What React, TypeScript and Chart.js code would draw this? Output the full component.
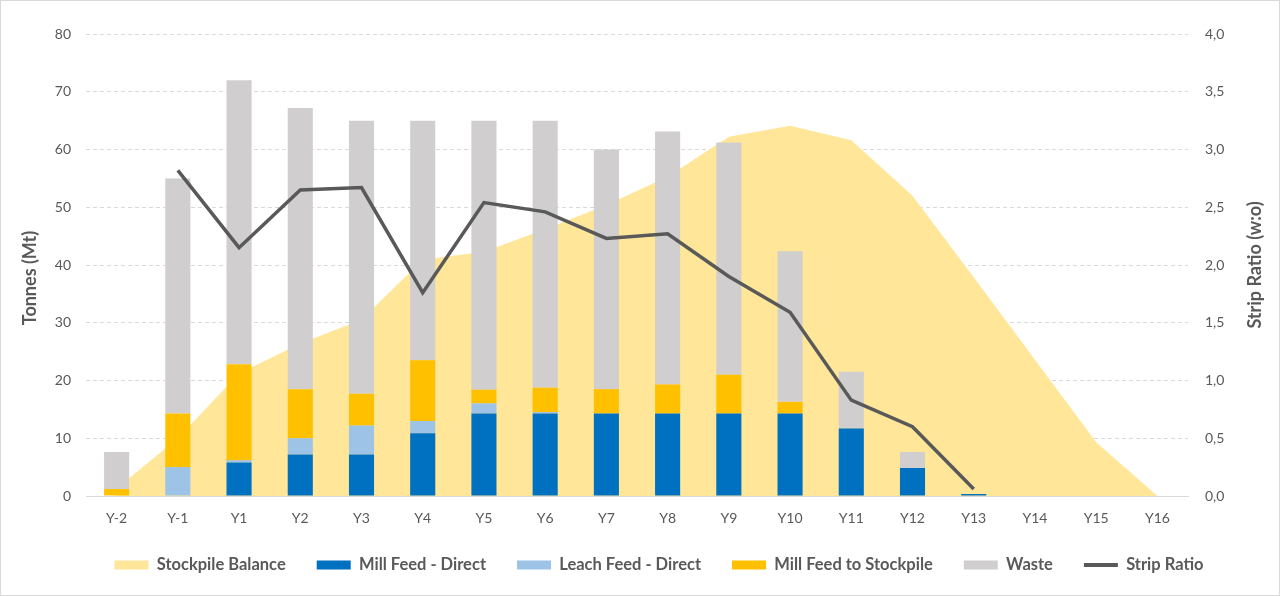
import { useEffect, useRef } from "react";
import Chart from "chart.js/auto";

const categories = [
  "Y-2", "Y-1", "Y1", "Y2", "Y3", "Y4", "Y5", "Y6", "Y7",
  "Y8", "Y9", "Y10", "Y11", "Y12", "Y13", "Y14", "Y15", "Y16",
];
const stockpileBalance = [1.3, 10.0, 21.2, 26.4, 30.5, 40.9, 42.3, 46.2, 50.4, 55.3, 62.2, 64.1, 61.6, 52.0, 37.9, 23.6, 9.3, 0];
const millFeedDirect = [0, 0, 5.8, 7.2, 7.2, 10.85, 14.3, 14.3, 14.3, 14.3, 14.3, 14.3, 11.7, 4.85, 0.35, 0, 0, 0];
const leachFeedDirect = [0, 5.0, 0.4, 2.8, 5.0, 2.15, 1.75, 0.25, 0, 0, 0, 0, 0.1, 0, 0, 0, 0, 0];
const millFeedToStockpile = [1.2, 9.3, 16.6, 8.5, 5.5, 10.5, 2.35, 4.2, 4.2, 5.0, 6.7, 2.0, 0, 0, 0, 0, 0, 0];
const waste = [6.4, 40.7, 49.2, 48.7, 47.3, 41.5, 46.6, 46.25, 41.5, 43.8, 40.2, 26.1, 9.7, 2.75, 0, 0, 0, 0];
const stripRatio = [null, 2.82, 2.15, 2.65, 2.67, 1.76, 2.54, 2.46, 2.23, 2.27, 1.9, 1.59, 0.83, 0.6, 0.06, null, null, null];

const leftTitle = "Tonnes (Mt)";
const rightTitle = "Strip Ratio (w:o)";

const FONT = "Lato, 'Open Sans', sans-serif";
const TEXT = "#595959";

// both axis titles read bottom-to-top, and the left one sits a bit low,
// so they are drawn here rather than through scale.title
const axisTitlePlugin = {
  id: "axisTitles",
  afterDraw(chart: any) {
    const { ctx, chartArea } = chart;
    const mid = (chartArea.top + chartArea.bottom) / 2;
    const draw = (text: string, x: number, y: number) => {
      ctx.save();
      ctx.translate(x, y);
      ctx.rotate(-Math.PI / 2);
      ctx.textAlign = "center";
      ctx.textBaseline = "middle";
      ctx.font = `bold 18px ${FONT}`;
      ctx.fillStyle = TEXT;
      ctx.fillText(text, 0, 0);
      ctx.restore();
    };
    draw(leftTitle, 29.5, mid + 13);
    draw(rightTitle, chart.width - 23.5, mid);
  },
};

// nudge the legend row right, it is not centred on the canvas in the original
const legendShiftPlugin = {
  id: "legendShift",
  afterLayout(chart: any) {
    if (!chart.legend) return;
    chart.legend.left += 19;
    chart.legend.right += 19;
  },
};

function MineChart() {
  const canvasRef = useRef<HTMLCanvasElement | null>(null);
  const chartRef = useRef<Chart | null>(null);

  useEffect(() => {
    if (!canvasRef.current) return;
    if (chartRef.current) chartRef.current.destroy();

    const barCommon = {
      type: "bar" as const,
      yAxisID: "y",
      order: 1,
      barPercentage: 0.41,
      categoryPercentage: 1,
      borderWidth: 0,
    };

    chartRef.current = new Chart(canvasRef.current, {
      type: "bar",
      data: {
        labels: categories,
        datasets: [
          {
            type: "line",
            label: "Stockpile Balance",
            data: stockpileBalance,
            yAxisID: "y",
            order: 2,
            fill: "origin",
            backgroundColor: "#FFE699",
            borderWidth: 0,
            pointRadius: 0,
            tension: 0,
          },
          { ...barCommon, label: "Mill Feed - Direct", data: millFeedDirect, backgroundColor: "#0070C0" },
          { ...barCommon, label: "Leach Feed - Direct", data: leachFeedDirect, backgroundColor: "#9DC3E6" },
          { ...barCommon, label: "Mill Feed to Stockpile", data: millFeedToStockpile, backgroundColor: "#FFC000" },
          { ...barCommon, label: "Waste", data: waste, backgroundColor: "#D0CECE" },
          {
            type: "line",
            label: "Strip Ratio",
            data: stripRatio,
            yAxisID: "y1",
            order: 0,
            fill: false,
            borderColor: "#595959",
            borderWidth: 3.5,
            pointRadius: 0,
            tension: 0,
            spanGaps: false,
          },
        ] as any,
      },
      options: {
        animation: false,
        responsive: true,
        maintainAspectRatio: false,
        layout: { padding: { top: 33, left: 0, right: 0, bottom: 11.75 } },
        scales: {
          x: {
            stacked: true,
            grid: { display: false, drawTicks: false },
            border: { display: true, color: "#D9D9D9", width: 1 },
            ticks: { color: TEXT, padding: 14.5, font: { family: FONT, size: 14 } },
            afterFit: (scale: any) => {
              scale.height = 29.75;
            },
          },
          y: {
            position: "left",
            stacked: true,
            min: 0,
            max: 80,
            ticks: { stepSize: 10, color: TEXT, padding: 15, font: { family: FONT, size: 14 } },
            grid: { color: "#D9D9D9", drawTicks: false },
            border: { display: false, dash: [4, 3] },
            afterFit: (scale: any) => {
              scale.width = 85;
            },
          },
          y1: {
            position: "right",
            min: 0,
            max: 4,
            ticks: {
              stepSize: 0.5,
              color: TEXT,
              padding: 17,
              font: { family: FONT, size: 14 },
              callback: (v: any) => Number(v).toFixed(1).replace(".", ","),
            },
            grid: { display: false, drawTicks: false },
            border: { display: false },
            afterFit: (scale: any) => {
              scale.width = 91;
            },
          },
        },
        plugins: {
          tooltip: { enabled: false },
          legend: {
            position: "bottom",
            labels: {
              usePointStyle: true,
              pointStyleWidth: 34,
              boxHeight: 9,
              padding: 31,
              color: TEXT,
              font: { family: FONT, size: 16.5, weight: "bold" },
              generateLabels: (chart: any) =>
                chart.data.datasets.map((ds: any, i: number) => {
                  const isLine = ds.label === "Strip Ratio";
                  return {
                    text: ds.label,
                    fillStyle: isLine ? "#595959" : ds.backgroundColor,
                    strokeStyle: "#595959",
                    lineWidth: isLine ? 4 : 0,
                    pointStyle: isLine ? "line" : "rect",
                    hidden: false,
                    datasetIndex: i,
                    fontColor: TEXT,
                  };
                }),
            },
          },
        },
      },
      plugins: [axisTitlePlugin, legendShiftPlugin],
    });

    return () => {
      chartRef.current?.destroy();
      chartRef.current = null;
    };
  }, []);

  return (
    <div
      style={{
        position: "fixed",
        left: 0,
        top: 0,
        width: 1280,
        height: 596,
        boxSizing: "border-box",
        border: "1px solid #D9D9D9",
        background: "#fff",
      }}
    >
      <div style={{ position: "relative", width: 1278, height: 594 }}>
        <canvas ref={canvasRef} />
      </div>
    </div>
  );
}

export default function App() {
  return <MineChart />;
}
